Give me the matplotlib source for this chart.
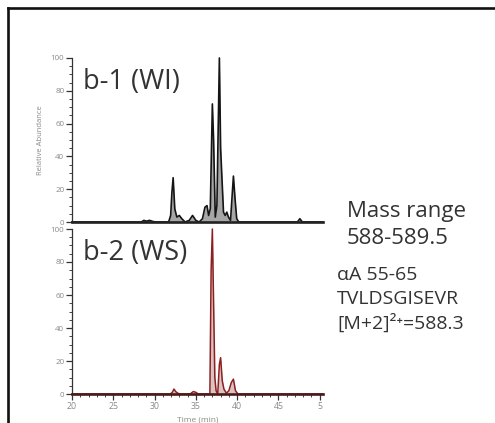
import numpy as np
import matplotlib
matplotlib.use("Agg")
from matplotlib import pyplot as plt
from matplotlib.ticker import MultipleLocator
from matplotlib.lines import Line2D

plt.rcParams['font.family'] = ['Open Sans', 'DejaVu Sans']

# b-1 (WI) trace (time in min, relative abundance)
wi_time = [20, 28.4, 28.7, 29.0, 29.4, 29.8, 30.2, 31.7, 31.95, 32.1, 32.25, 32.45, 32.7,
           33.0, 33.3, 33.7, 34.2, 34.6, 35.0, 35.4, 35.8, 36.1, 36.35, 36.55, 36.75, 37.0,
           37.15, 37.35, 37.55, 37.85, 38.0, 38.15, 38.35, 38.55, 38.75, 38.95, 39.2, 39.55,
           39.75, 39.95, 40.2, 47.3, 47.6, 47.9, 50.4]
wi_abund = [0, 0, 1, 0.5, 1, 0.3, 0, 0, 4, 18, 27, 8, 3,
            4, 2, 0, 1, 4, 1, 0, 2, 9, 10, 4, 8, 72,
            50, 3, 10, 100, 45, 28, 6, 4, 6, 3, 1, 28,
            14, 2, 0, 0, 2, 0, 0]

# b-2 (WS) trace
ws_time = [20, 31.9, 32.15, 32.35, 32.55, 32.8, 33.1, 34.3, 34.7, 35.0, 35.3, 36.7, 36.85,
           37.0, 37.15, 37.3, 37.45, 37.65, 37.85, 38.0, 38.2, 38.4, 38.7, 39.0, 39.3, 39.55,
           39.8, 40.1, 50.4]
ws_abund = [0, 0, 1, 3, 1.5, 0.5, 0, 0, 1.5, 1, 0, 0, 75,
            100, 55, 10, 2, 0, 18, 22, 8, 3, 0.5, 2, 7, 9,
            2, 0, 0]

x_ticks = [20, 25, 30, 35, 40, 45, 50]
x_labels = ["20", "25", "30", "35", "40", "45", "5"]
y_ticks = [0, 20, 40, 60, 80, 100]

fig = plt.figure(figsize=(4.95, 4.23), dpi=100)
W, H = 495, 423

def px_axes(x0, y_top, x1, y_bot):
    return fig.add_axes([x0 / W, 1 - y_bot / H, (x1 - x0) / W, (y_bot - y_top) / H])

ax1 = px_axes(72, 58, 323, 222)
ax2 = px_axes(72, 229, 323, 394)

tick_col = '#8a8a8a'
for ax in (ax1, ax2):
    ax.set_xlim(20, 50.4)
    ax.set_ylim(0, 100)
    for s in ('top', 'right'):
        ax.spines[s].set_visible(False)
    ax.spines['left'].set_linewidth(0.9)
    ax.spines['left'].set_color('#333333')
    ax.spines['bottom'].set_linewidth(1.9)
    ax.set_yticks(y_ticks)
    ax.yaxis.set_minor_locator(MultipleLocator(5))
    ax.tick_params(axis='y', which='major', length=4, width=0.9, labelsize=5.8,
                   labelcolor=tick_col, color='#333333', pad=1.5)
    ax.tick_params(axis='y', which='minor', length=2.5, width=0.7, color='#444444')
    ax.patch.set_alpha(0)

# top panel
ax1.fill_between(wi_time, wi_abund, 0, color='#a6a6a6', lw=0)
ax1.plot(wi_time, wi_abund, color='#151515', lw=1.2, clip_on=False)
ax1.spines['bottom'].set_color('#222222')
ax1.set_xticks([])
ax1.set_ylabel('Relative Abundance', fontsize=5.5, color=tick_col, labelpad=5)
ax1.text(0.043, 0.94, 'b-1 (WI)', transform=ax1.transAxes, fontsize=19.5,
         color='#333333', va='top', ha='left')

# bottom panel
ax2.fill_between(ws_time, ws_abund, 0, color='#dcc3c3', lw=0)
ax2.plot(ws_time, ws_abund, color='#8b2020', lw=1.1, clip_on=False)
ax2.spines['bottom'].set_color('#4a1a1a')
ax2.set_xticks(x_ticks)
ax2.set_xticklabels(x_labels)
ax2.xaxis.set_minor_locator(MultipleLocator(1))
ax2.tick_params(axis='x', which='major', length=4, width=0.9, labelsize=6.3,
                labelcolor=tick_col, color='#333333', pad=1.5)
ax2.tick_params(axis='x', which='minor', length=2.5, width=0.7, color='#444444')
ax2.set_xlabel('Time (min)', fontsize=6, color=tick_col, labelpad=4)
ax2.text(0.043, 0.94, 'b-2 (WS)', transform=ax2.transAxes, fontsize=19.5,
         color='#333333', va='top', ha='left')

# annotations on the right
txt = dict(color='#333333', va='center', ha='left')
fig.text(347 / W, 1 - 211 / H, 'Mass range', fontsize=16, **txt)
fig.text(347 / W, 1 - 238 / H, '588-589.5', fontsize=16, **txt)
fig.text(337 / W, 1 - 275 / H, '\u03b1A 55-65', fontsize=14, **txt)
fig.text(337 / W, 1 - 299 / H, 'TVLDSGISEVR', fontsize=14, **txt)
fig.text(337 / W, 1 - 323 / H, '[M+2]\u00b2\u207a=588.3', fontsize=14, **txt)

# outer frame (top and left edges only)
fig.add_artist(Line2D([8 / W, 1], [1 - 8 / H, 1 - 8 / H], color='#111111', lw=1.9))
fig.add_artist(Line2D([8 / W, 8 / W], [1 - 8 / H, 0], color='#111111', lw=1.9))

fig.savefig('out.png', dpi=100)
